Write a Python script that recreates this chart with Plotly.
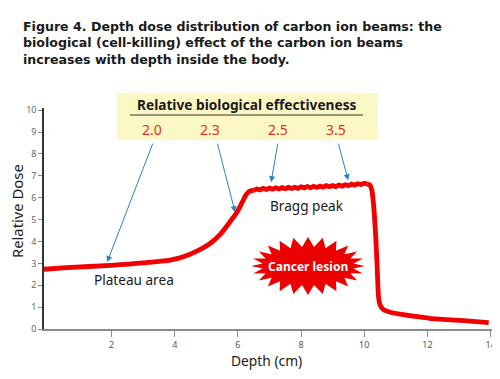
import numpy as np
import plotly.graph_objects as go

# ---------------- data ----------------
depth_rise = [-0.14, 0.58, 1.98, 3.0, 3.85, 4.27, 4.70, 5.12, 5.44, 5.75, 5.98, 6.17, 6.28, 6.39, 6.5]
dose_rise = [2.73, 2.80, 2.91, 3.02, 3.15, 3.30, 3.56, 3.91, 4.32, 4.90, 5.36, 5.89, 6.18, 6.31, 6.33]

depth_peak = [6.5, 6.6, 6.7, 6.8, 6.9, 7.0, 7.1, 7.2, 7.3, 7.4, 7.5, 7.6, 7.7, 7.8, 7.9, 8.0,
              8.1, 8.2, 8.3, 8.4, 8.5, 8.6, 8.7, 8.8, 8.9, 9.0, 9.1, 9.2, 9.3, 9.4, 9.5, 9.6,
              9.7, 9.8, 9.9, 10.0, 10.1]
dose_peak = [6.33, 6.40, 6.36, 6.43, 6.38, 6.44, 6.39, 6.45, 6.40, 6.46, 6.41, 6.47, 6.42, 6.48,
             6.43, 6.50, 6.45, 6.51, 6.46, 6.52, 6.47, 6.53, 6.48, 6.55, 6.50, 6.56, 6.51, 6.58,
             6.53, 6.59, 6.55, 6.62, 6.57, 6.64, 6.60, 6.66, 6.62]

depth_fall = [10.1, 10.18, 10.24, 10.30, 10.36, 10.41, 10.45, 10.50, 10.60, 10.80, 11.13, 11.6, 12.06, 12.6, 13.14, 13.94]
dose_fall = [6.62, 6.58, 6.35, 5.60, 4.30, 2.80, 1.50, 1.10, 0.90, 0.78, 0.68, 0.58, 0.49, 0.43, 0.38, 0.29]

x_ticks = [2, 4, 6, 8, 10, 12, 14]
y_ticks = [0, 1, 2, 3, 4, 5, 6, 7, 8, 9, 10]

rbe_labels = ["2.0", "2.3", "2.5", "3.5"]
rbe_tail_x = [3.32, 5.34, 7.27, 9.17]
rbe_head_x = [1.86, 5.91, 7.05, 9.49]
rbe_head_y = [3.06, 5.34, 6.71, 6.80]

title_text = ("Figure 4. Depth dose distribution of carbon ion beams: the<br>"
              "biological (cell-killing) effect of the carbon ion beams<br>"
              "increases with depth inside the body.")

FONT = "Noto Sans"
TFONT = "DejaVu Sans"
RED = "#f20000"

fig = go.Figure()
fig.add_trace(go.Scatter(x=depth_rise, y=dose_rise, mode="lines",
                         line=dict(color=RED, width=4.8, shape="spline", smoothing=0.8),
                         hoverinfo="skip", showlegend=False))
fig.add_trace(go.Scatter(x=depth_peak, y=dose_peak, mode="lines",
                         line=dict(color=RED, width=4.8),
                         hoverinfo="skip", showlegend=False))
fig.add_trace(go.Scatter(x=depth_fall, y=dose_fall, mode="lines",
                         line=dict(color=RED, width=4.8, shape="spline", smoothing=0.5),
                         hoverinfo="skip", showlegend=False))

# ---------------- layout geometry (page has an 8px body margin) ----------------
OFF = 8
W, H = 500 - OFF, 379 - OFF
L = 44 - OFF
T = 108 - OFF
R = W - (495 - OFF)
B = H - (329 - OFF)
PW, PH = W - L - R, H - T - B


def px(xs):
    return (xs - OFF - L) / PW


def py(ys):
    return (H - B - (ys - OFF)) / PH


shapes = []
# yellow box
shapes.append(dict(type="rect", xref="paper", yref="paper",
                   x0=px(117), x1=px(378), y0=py(140), y1=py(93),
                   fillcolor="#fbf8c6", line=dict(width=0), layer="above"))
shapes.append(dict(type="line", xref="paper", yref="paper",
                   x0=px(130), x1=px(363), y0=py(115), y1=py(115),
                   line=dict(color="#333333", width=1)))

# starburst (Cancer lesion)
cx, cy = 8.22, 2.88
n = 24
ang = np.linspace(0, 2 * np.pi, 2 * n, endpoint=False)
rx = np.where(np.arange(2 * n) % 2 == 0, 1.80, 1.45)
ry = np.where(np.arange(2 * n) % 2 == 0, 1.33, 0.88)
pts_x = cx + rx * np.cos(ang)
pts_y = cy + ry * np.sin(ang)
path = "M " + " L ".join(f"{a:.4f},{b:.4f}" for a, b in zip(pts_x, pts_y)) + " Z"
shapes.append(dict(type="path", xref="x", yref="y", path=path,
                   fillcolor="#ee0000", line=dict(width=0), layer="above"))

annotations = []
annotations.append(dict(xref="paper", yref="paper", x=px(21), y=py(16.5),
                        xanchor="left", yanchor="top", align="left",
                        text="<b>" + title_text + "</b>", showarrow=False,
                        font=dict(family=TFONT, size=12.6, color="#1a1a1a")))
annotations.append(dict(xref="paper", yref="paper", x=px(247), y=py(104),
                        xanchor="center", yanchor="middle",
                        text="<b>Relative biological effectiveness</b>", showarrow=False,
                        font=dict(family=FONT, size=13.7, color="#1a1a1a")))
label_px = [152, 210, 278, 336]
for lab, lx in zip(rbe_labels, label_px):
    annotations.append(dict(xref="paper", yref="paper", x=px(lx), y=py(129),
                            xanchor="center", yanchor="middle",
                            text=lab, showarrow=False,
                            font=dict(family=FONT, size=14, color="#e0302a")))
for tx, hx, hy in zip(rbe_tail_x, rbe_head_x, rbe_head_y):
    annotations.append(dict(x=hx, y=hy, ax=tx, ay=8.54, xref="x", yref="y",
                            axref="x", ayref="y", text="", showarrow=True,
                            arrowhead=2, arrowsize=1.2, arrowwidth=1,
                            arrowcolor="#2f7fc1"))
annotations.append(dict(x=2.71, y=2.24, xref="x", yref="y", text="Plateau area",
                        showarrow=False, font=dict(family=FONT, size=13.6, color="#1a1a1a")))
annotations.append(dict(x=8.19, y=5.66, xref="x", yref="y", text="Bragg peak",
                        showarrow=False, font=dict(family=FONT, size=13.6, color="#1a1a1a")))
annotations.append(dict(x=8.22, y=2.86, xref="x", yref="y", text="<b>Cancer lesion</b>",
                        showarrow=False, font=dict(family=FONT, size=12, color="white")))
# axis titles
annotations.append(dict(xref="paper", yref="paper", x=px(17), y=py(211),
                        xanchor="center", yanchor="middle", textangle=-90,
                        text="Relative Dose", showarrow=False,
                        font=dict(family=FONT, size=14.8, color="#1a1a1a")))
annotations.append(dict(xref="paper", yref="paper", x=px(266), y=py(360),
                        xanchor="center", yanchor="middle",
                        text="Depth (cm)", showarrow=False,
                        font=dict(family=FONT, size=13.8, color="#1a1a1a")))

fig.update_layout(
    width=W, height=H,
    margin=dict(l=L, r=R, t=T, b=B, autoexpand=False),
    paper_bgcolor="white", plot_bgcolor="white",
    xaxis=dict(range=[-0.14, 14.14], tickvals=x_ticks, showgrid=False, zeroline=False,
               showline=True, linecolor="#8a8a8a", linewidth=2,
               ticks="outside", ticklen=6, tickcolor="#8a8a8a",
               tickfont=dict(family=FONT, size=9, color="#555555")),
    yaxis=dict(range=[0, 10.1], tickvals=y_ticks, showgrid=False, zeroline=False,
               showline=True, linecolor="#333333", linewidth=1.5,
               ticks="outside", ticklen=4, tickcolor="#888888",
               tickfont=dict(family=FONT, size=9, color="#666666")),
    shapes=shapes, annotations=annotations,
)

fig.write_html("out.html")
